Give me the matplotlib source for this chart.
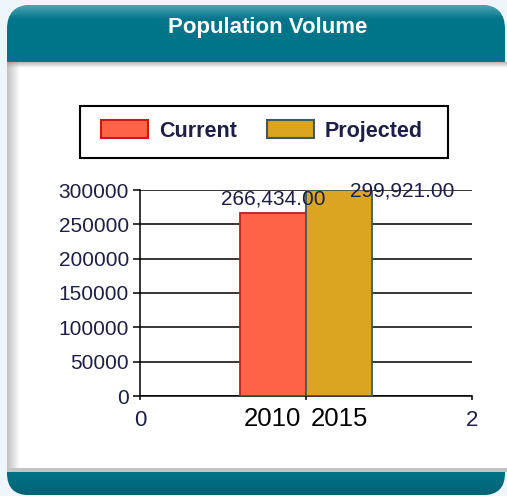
import numpy as np
import matplotlib
matplotlib.use('Agg')
from matplotlib import pyplot as plt
from matplotlib.patches import FancyBboxPatch, Rectangle, Patch

plt.rcParams['font.family'] = ['Liberation Sans', 'DejaVu Sans']

title = 'Population Volume'
series_names = ['Current', 'Projected']
years = ['2010', '2015']
values = [266434.00, 299921.00]
value_labels = ['266,434.00', '299,921.00']
y_ticks = [0, 50000, 100000, 150000, 200000, 250000, 300000]
x_ticks = [0, 1, 2]
x_tick_labels = ['0', '', '2']

fills = ['#FF6347', '#DAA520']
edges = ['#C81818', '#3E5B5B']
label_offsets = [(0, 6.5), (45, -5)]
teal = '#007489'
navy = '#1E1E46'

W, H = 507, 496
fig = plt.figure(figsize=(W / 100, H / 100), dpi=100, facecolor='#EEF6FC')

# widget frame, drawn in pixel coordinates
bg = fig.add_axes([0, 0, 1, 1])
bg.set_xlim(0, W)
bg.set_ylim(H, 0)
bg.axis('off')

header = FancyBboxPatch((7, 5), 498, 80, boxstyle='round,pad=0,rounding_size=24',
                        facecolor=teal, edgecolor='none')
bg.add_patch(header)
grad = np.linspace(0, 1, 64).reshape(-1, 1)
shade = bg.imshow(np.dstack([np.full_like(grad, 0.35), np.full_like(grad, 0.66), np.full_like(grad, 0.73),
                             np.clip(1 - grad * 4, 0, 1) * 0.9]),
                  extent=(7, 505, 62, 5), aspect='auto', zorder=2)
shade.set_clip_path(header)

footer = FancyBboxPatch((7, 440), 498, 55, boxstyle='round,pad=0,rounding_size=22',
                        facecolor=teal, edgecolor='none')
bg.add_patch(footer)
dark = bg.imshow(np.dstack([np.zeros_like(grad), np.full_like(grad, 0.33), np.full_like(grad, 0.40),
                            grad * 0.6]),
                 extent=(7, 505, 495, 472), aspect='auto', zorder=2)
dark.set_clip_path(footer)

bg.add_patch(Rectangle((7, 62), 500, 409, facecolor='white', edgecolor='none', zorder=3))
hgrad = np.linspace(1, 0, 32).reshape(1, -1)
bg.imshow(np.dstack([np.full_like(hgrad, 0.65)] * 3 + [hgrad * 0.7]),
          extent=(7, 20, 471, 62), aspect='auto', zorder=4)
vgrad = np.linspace(1, 0, 16).reshape(-1, 1)
bg.imshow(np.dstack([np.full_like(vgrad, 0.6)] * 3 + [vgrad * 0.7]),
          extent=(7, 507, 68, 62), aspect='auto', zorder=4)
bg.add_patch(Rectangle((7, 468), 500, 4, facecolor='#C4C4C4', edgecolor='none', zorder=4))
bg.add_patch(Rectangle((80, 106), 368, 52, facecolor='none', edgecolor='black', lw=1.5, zorder=5))

fig.text(268 / W, 1 - 28 / H, title, ha='center', va='center', color='white',
         fontsize=16, fontweight='bold', zorder=6)

# chart
ax = fig.add_axes([140 / W, 1 - 396 / H, 332 / W, 206 / H])
ax.patch.set_alpha(0)
width = 0.4
bar_x = 1 + (np.arange(len(values)) - (len(values) - 1) / 2) * width
for i in range(len(values)):
    ax.bar(bar_x[i], values[i], width=width, color=fills[i], edgecolor=edges[i], lw=1.3, zorder=3)
    ax.annotate(value_labels[i], (bar_x[i], values[i]), xytext=label_offsets[i], textcoords='offset points',
                ha='center', va='baseline', fontsize=15, color=navy, annotation_clip=False, zorder=4)
    ax.annotate(years[i], (bar_x[i], 0), xytext=(0, -8), textcoords='offset points',
                ha='center', va='top', fontsize=18.5, color='black', annotation_clip=False)

ax.set_xlim(0, 2)
ax.set_ylim(0, 300000)
ax.set_xticks(x_ticks, x_tick_labels)
ax.set_yticks(y_ticks, [str(t) for t in y_ticks])
ax.yaxis.grid(True, color='black', lw=1.1)
ax.set_axisbelow(True)
for s in ['top', 'right']:
    ax.spines[s].set_visible(False)
for s in ['left', 'bottom']:
    ax.spines[s].set_linewidth(1.1)
ax.tick_params(axis='y', length=5, width=1.1, pad=3, labelsize=15, labelcolor=navy)
ax.tick_params(axis='x', length=3, width=1.1, pad=7, labelsize=16, labelcolor=navy)

handles = [Patch(facecolor=fills[i], edgecolor=edges[i], lw=1.5) for i in range(2)]
leg = fig.legend(handles, series_names, loc='center left', bbox_to_anchor=(90 / W, 1 - 131 / H),
                 ncol=2, frameon=False, borderpad=0, handlelength=2.2, handleheight=0.85,
                 handletextpad=0.5, columnspacing=1.4, prop={'size': 15.5, 'weight': 'bold'})
for t in leg.get_texts():
    t.set_color(navy)

plt.savefig('out.png', dpi=100, facecolor=fig.get_facecolor())
plt.close()
